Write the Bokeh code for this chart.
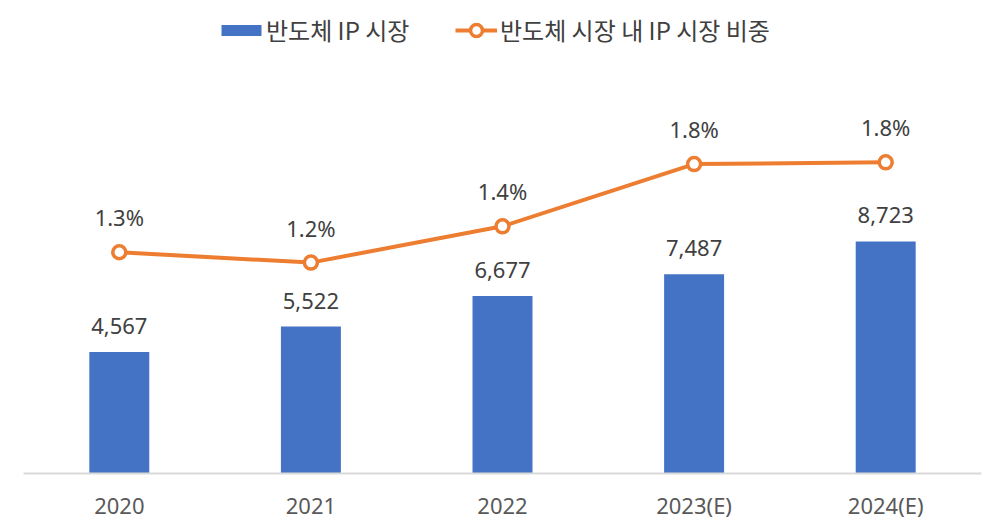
from bokeh.plotting import figure
from bokeh.models import ColumnDataSource, Range1d, FactorRange, Legend, LegendItem
from bokeh.core.properties import value
from bokeh.embed import file_html
from bokeh.resources import INLINE

years = ["2020", "2021", "2022", "2023(E)", "2024(E)"]
ip_market = [4567, 5522, 6677, 7487, 8723]
ip_share = [1.28, 1.22, 1.43, 1.79, 1.80]
bar_name = "반도체 IP 시장"
line_name = "반도체 시장 내 IP 시장 비중"

BLUE = "#4472C4"
ORANGE = "#ED7D31"
TXT = "#404040"

src = ColumnDataSource(dict(
    x=years, v=ip_market, s=ip_share,
    vl=[f"{v:,}" for v in ip_market],
    sl=[f"{s:.1f}%" for s in ip_share],
))

p = figure(x_range=FactorRange(*years, range_padding=0), y_range=Range1d(0, 17481),
           width=988, height=523, output_backend="svg", toolbar_location=None,
           y_axis_location=None, min_border_left=23, min_border_right=7,
           min_border_top=8, min_border_bottom=50, outline_line_color=None)
p.extra_y_ranges = {"pct": Range1d(0, 2.69)}
p.xgrid.visible = False
p.ygrid.visible = False

bars = p.vbar(x="x", top="v", width=0.313, source=src, fill_color=BLUE, line_color=None)
line = p.line(x="x", y="s", source=src, y_range_name="pct", line_color=ORANGE, line_width=4)
dots = p.scatter(x="x", y="s", source=src, y_range_name="pct", size=13,
                 fill_color="white", line_color=ORANGE, line_width=3.5)

p.text(x="x", y="v", text="vl", source=src, text_align="center", text_baseline="middle",
       y_offset=-26, text_font=value("Noto Sans"), text_font_size="22px", text_color=TXT)
p.text(x="x", y="s", text="sl", source=src, y_range_name="pct", text_align="center",
       text_baseline="middle", y_offset=-35, text_font=value("Noto Sans"),
       text_font_size="22px", text_color=TXT)

ax = p.xaxis[0]
ax.axis_line_color = "#D9D9D9"
ax.axis_line_width = 2
ax.major_tick_line_color = None
ax.minor_tick_line_color = None
ax.major_tick_out = 0
ax.major_tick_in = 0
ax.major_label_standoff = 16
ax.major_label_text_font = "Noto Sans"
ax.major_label_text_font_size = "22px"
ax.major_label_text_color = "#595959"

common = dict(padding=0, margin=0, border_line_color=None, background_fill_alpha=0,
              label_text_font="Noto Sans CJK KR", label_text_font_size="24px",
              label_text_color=TXT, spacing=0)
leg1 = Legend(items=[LegendItem(label=bar_name, renderers=[bars])], location=(193, 426),
              glyph_width=50, glyph_height=14, label_standoff=0, **common)
leg2 = Legend(items=[LegendItem(label=line_name, renderers=[line, dots])], location=(432, 426),
              glyph_width=42, glyph_height=30, label_standoff=3, **common)
p.add_layout(leg1, "center")
p.add_layout(leg2, "center")

open("out.html", "w").write(file_html(p, INLINE))
